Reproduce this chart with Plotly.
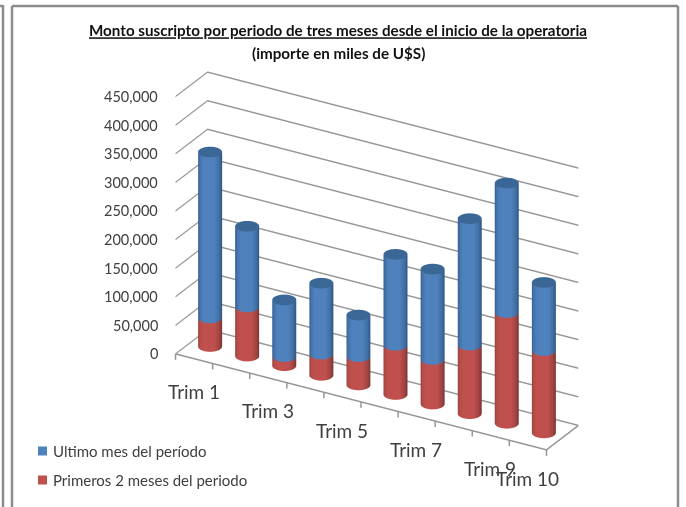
import numpy as np
import plotly.graph_objects as go

categories = ["Trim 1", "Trim 2", "Trim 3", "Trim 4", "Trim 5", "Trim 6", "Trim 7", "Trim 8", "Trim 9", "Trim 10"]
shown_categories = ["Trim 1", "Trim 3", "Trim 5", "Trim 7", "Trim 9", "Trim 10"]
primeros = [50000, 86000, 16000, 37000, 49500, 86000, 78000, 120000, 193500, 144000]
ultimo = [290000, 141000, 99000, 124000, 72500, 159000, 158000, 221000, 226500, 119000]
value_ticks = [0, 50000, 100000, 150000, 200000, 250000, 300000, 350000, 400000, 450000]
title_line1 = "Monto suscripto por periodo de tres meses desde el inicio de la operatoria"
title_line2 = "(importe en miles de U$S)"
name_ultimo = "Ultimo mes del período"
name_primeros = "Primeros 2 meses del periodo"

FONT = "Lato, Carlito, Calibri, sans-serif"
TEXT = "#404040"
GRID = "#969696"
FRAME = "#8c8c8c"
TICK_DROP = 10500
Z_MIN, Z_MAX = -TICK_DROP, 450000

PX_X, PX_Y, PX_Z = 429.4, 63.6, 287.5 * (Z_MAX - Z_MIN) / 450000
R_PX = 12.0
rx = R_PX / (PX_X / 10)
ry = R_PX / PX_Y
AZ = np.radians(-59.8)
EL = np.radians(26.4)
EYE_R = 1.5
SCALE = 1.5 * 1.192 / PX_X

theta = np.linspace(0, 2 * np.pi, 73)
facing = -np.sin(AZ) * np.cos(theta) + np.cos(AZ) * np.sin(theta)

BLUE_SCALE = [[0, "#375f90"], [0.08, "#4473ab"], [0.22, "#4f81bd"], [0.68, "#4f81bd"], [0.88, "#416fa3"], [1, "#2e5583"]]
RED_SCALE = [[0, "#944240"], [0.08, "#b54c49"], [0.22, "#c0504d"], [0.68, "#c0504d"], [0.88, "#a04543"], [1, "#7a3432"]]
BLUE_TOP = "#3b6796"
LIGHTING = dict(ambient=1, diffuse=0, specular=0, roughness=1, fresnel=0)


def wall(cx, z0, z1, scale):
    X = np.vstack([cx + rx * np.cos(theta)] * 2)
    Y = np.vstack([0.5 + ry * np.sin(theta)] * 2)
    Z = np.vstack([np.full_like(theta, z0), np.full_like(theta, z1)])
    C = np.vstack([facing, facing])
    return go.Surface(x=X, y=Y, z=Z, surfacecolor=C, cmin=-1, cmax=1, colorscale=scale,
                      showscale=False, hoverinfo="skip", lighting=LIGHTING, showlegend=False)


def cap(cx, z, color):
    rad = np.array([0.0, 1.0])
    X = cx + rx * np.outer(rad, np.cos(theta))
    Y = 0.5 + ry * np.outer(rad, np.sin(theta))
    Z = np.full_like(X, z)
    return go.Surface(x=X, y=Y, z=Z, surfacecolor=np.zeros_like(X), cmin=-1, cmax=1,
                      colorscale=[[0, color], [1, color]], showscale=False,
                      hoverinfo="skip", lighting=LIGHTING, showlegend=False)


fig = go.Figure()
for i in range(len(categories)):
    cx = i + 0.5
    fig.add_trace(wall(cx, 0, primeros[i], RED_SCALE))
    fig.add_trace(wall(cx, primeros[i], primeros[i] + ultimo[i], BLUE_SCALE))
    fig.add_trace(cap(cx, primeros[i] + ultimo[i], BLUE_TOP))

n = len(categories)
ex, ey, ez = [0, n, n, None], [0, 0, 1, None], [0, 0, 0, None]
for k in range(n + 1):
    ex += [k, k, None]
    ey += [0, 0, None]
    ez += [0, -TICK_DROP, None]
fig.add_trace(go.Scatter3d(x=ex, y=ey, z=ez, mode="lines", line=dict(color=GRID, width=3),
                           hoverinfo="skip", showlegend=False))

z_notes = [dict(x=0, y=0, z=v, text=f"{v:,}", showarrow=False, xanchor="right", yanchor="middle", xshift=-15,
                font=dict(family=FONT, size=14.5, color=TEXT)) for v in value_ticks]
c_notes = [dict(x=categories.index(c) + 0.5, y=0, z=0, text=c, showarrow=False, xanchor="center", yanchor="middle",
                yshift=-33, font=dict(family=FONT, size=19, color=TEXT)) for c in shown_categories]

axis_off = dict(showgrid=False, showticklabels=False, showline=False, zeroline=False, showbackground=False,
                showspikes=False, ticks="", title="")


def frame_line(x0, y0, x1, y1):
    return dict(type="line", xref="paper", yref="paper", x0=x0 / 686, x1=x1 / 686, y0=1 - y0 / 507, y1=1 - y1 / 507,
                line=dict(color=FRAME, width=2.5))


def legend_square(y, color):
    return dict(type="rect", xref="paper", yref="paper", x0=38 / 686, x1=47 / 686, y0=1 - (y - 4.5) / 507,
                y1=1 - (y + 4.5) / 507, fillcolor=color, line=dict(width=0))


def legend_text(y, text):
    return dict(xref="paper", yref="paper", x=51 / 686, y=1 - y / 507, xanchor="left", yanchor="middle",
                text=text, showarrow=False, font=dict(family=FONT, size=15, color=TEXT))


fig.update_layout(
    width=686, height=507, autosize=False,
    margin=dict(l=0, r=0, t=0, b=0),
    paper_bgcolor="white",
    font=dict(family=FONT, color=TEXT),
    showlegend=False,
    title=dict(text=f"<b><u>{title_line1}</u></b>", x=338 / 686, xanchor="center",
               y=1 - 31 / 507, yanchor="middle", font=dict(family=FONT, size=15.2, color="#111111")),
    annotations=[
        dict(xref="paper", yref="paper", x=338 / 686, y=1 - 53 / 507, xanchor="center", yanchor="middle",
             text=f"<b>{title_line2}</b>", showarrow=False, font=dict(family=FONT, size=15.2, color="#111111")),
        legend_text(451, name_ultimo),
        legend_text(480, name_primeros),
    ],
    scene=dict(
        domain=dict(x=[(376.5 - 309) / 686, (376.5 + 309) / 686], y=[3 / 507, 483 / 507]),
        xaxis=dict(range=[0, n], **axis_off),
        yaxis=dict(range=[0, 1], **axis_off),
        zaxis=dict(range=[Z_MIN, Z_MAX], tickmode="array", tickvals=value_ticks, showgrid=True, gridcolor=GRID,
                   gridwidth=3, showticklabels=False, showline=False, zeroline=False, showbackground=False,
                   showspikes=False, ticks="", title=""),
        aspectmode="manual",
        aspectratio=dict(x=PX_X * SCALE, y=PX_Y * SCALE, z=PX_Z * SCALE),
        camera=dict(
            projection=dict(type="orthographic"),
            up=dict(x=0, y=0, z=1),
            center=dict(x=0, y=0, z=0),
            eye=dict(x=EYE_R * np.cos(EL) * np.cos(AZ), y=EYE_R * np.cos(EL) * np.sin(AZ), z=EYE_R * np.sin(EL)),
        ),
        annotations=z_notes + c_notes,
    ),
    shapes=[
        frame_line(3, 507, 3, 5),
        frame_line(0, 6, 3, 6),
        frame_line(12, 507, 12, 6),
        frame_line(12, 6, 678, 6),
        frame_line(678, 507, 678, 6),
        legend_square(451, "#4f81bd"),
        legend_square(480, "#c0504d"),
    ],
)

fig.write_html("out.html", post_script="document.body.style.margin='0';", config={"displayModeBar": False})
